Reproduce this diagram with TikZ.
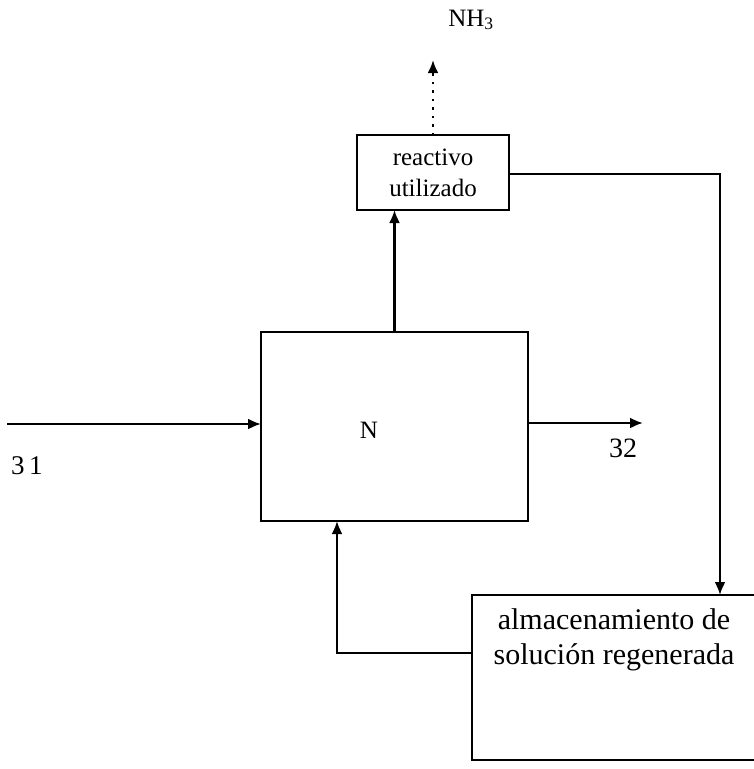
\documentclass[tikz,border=0pt]{standalone}
\usepackage{fontspec}
\setmainfont{Liberation Serif}
\usetikzlibrary{arrows.meta,positioning}
\begin{document}
\begin{tikzpicture}[x=1pt,y=-1pt,
  unit/.style={draw=black,line width=2.2pt,inner sep=0pt,outer sep=0pt},
  tank/.style={inner sep=0pt,outer sep=0pt},
  flow/.style={line width=2.2pt,-{Latex[length=13pt,width=11pt]}},
  vapor/.style={line width=2.4pt,dash pattern=on 2.5pt off 6pt,-{Latex[length=13pt,width=11pt]}}]
\useasboundingbox (0,0) rectangle (753,769);
\node[unit,minimum width=152pt,minimum height=75pt,align=center,font=\fontsize{25}{31}\selectfont] (reactivo) at (433,172.5) {reactivo\\utilizado};
\node[unit,minimum width=267pt,minimum height=189pt] (nbox) at (394.5,426.5) {};
\node[font=\fontsize{25}{30}\selectfont] (nlabel) at (369,430) {N};
\node[tank,minimum width=300pt,minimum height=165pt] (almacen) at (622,677.5) {};
\draw[line width=2.2pt] (almacen.north east) -- (almacen.north west) -- (almacen.south west) -- (almacen.south east);
\node[anchor=north,align=center,font=\fontsize{30}{35}\selectfont] (almacenlabel) at ([xshift=-8pt,yshift=-10pt]almacen.north) {almacenamiento de\\solución regenerada};
\node[font=\fontsize{25}{30}\selectfont] (nhtres) at (471,20) {NH\textsubscript{3}};
\node[font=\fontsize{27}{30}\selectfont] (inlabel) at (27,466) {3\,1};
\node[font=\fontsize{28}{30}\selectfont] (outlabel) at (623,448) {32};
\coordinate (vent) at (433,60);
\coordinate (feed) at (7,424);
\coordinate (outtip) at (643,423);
\coordinate (turn) at (720,174);
\coordinate (retturn) at (337,653);
\draw[vapor] (reactivo.north) -- (vent);
\draw[flow] (nbox.north) -- (nbox.north |- reactivo.south);
\draw[flow] (feed) -- (feed -| nbox.west);
\draw[flow] (outtip -| nbox.east) -- (outtip);
\draw[flow] (turn -| reactivo.east) -- (turn) -- (turn |- almacen.north);
\draw[flow] (retturn -| almacen.west) -- (retturn) -- (retturn |- nbox.south);
\end{tikzpicture}
\end{document}
